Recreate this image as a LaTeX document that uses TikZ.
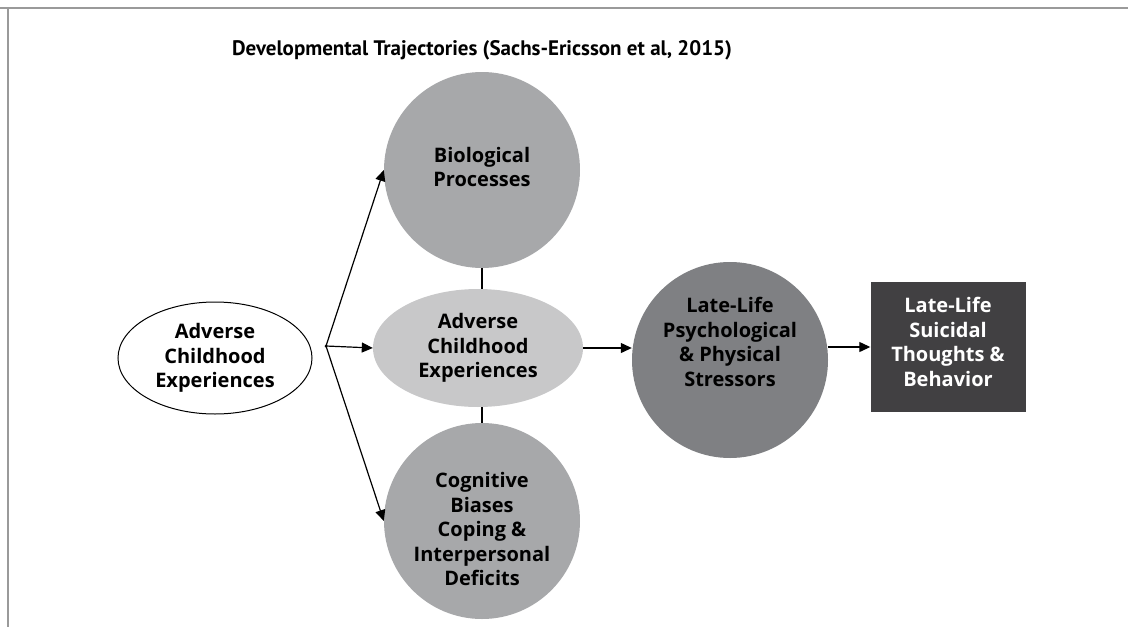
\documentclass[tikz,border=0pt]{standalone}
\usepackage{fontspec}
\setmainfont{Open Sans}
\newfontfamily\titlefont{PT Sans}
\usetikzlibrary{shapes.geometric,arrows.meta}
\definecolor{lightfill}{HTML}{C8C8C9}
\definecolor{midfill}{HTML}{A7A8AA}
\definecolor{darkfill}{HTML}{7F8083}
\definecolor{boxfill}{HTML}{414042}
\definecolor{framegray}{HTML}{9A9A9A}
\tikzset{
  txt/.style={align=center,font=\bfseries\fontsize{20}{24.5}\selectfont,text=black},
  bubble/.style={circle,minimum size=196pt,inner sep=0pt,fill=midfill,draw=none},
  link/.style={line width=1.2pt,-{Triangle[length=11pt,width=10pt]}},
}
\begin{document}
\begin{tikzpicture}[x=1pt,y=-1pt]
            \def\W{1128}
            \def\H{627}
            \useasboundingbox (0,0) rectangle (\W,\H);
            \draw[framegray,line width=1.5pt] (0,8)--(\W,8);
            \draw[framegray,line width=1.5pt] (8,8)--(8,\H);
            \node[font=\titlefont\bfseries\fontsize{21}{25}\selectfont] (title)
                at (482,50) {Developmental Trajectories (Sachs-Ericsson et al, 2015)};
            \node[txt,ellipse,draw,line width=1pt,fill=white,
                  minimum width=194pt,minimum height=112pt,inner sep=0pt]
                (ace) at (215,358) {Adverse\\Childhood\\Experiences};
            \node[bubble] (bio) at (482,170) {};
            \node[txt] at (482,167) {Biological\\Processes};
            \node[txt,ellipse,fill=lightfill,minimum width=210pt,
                  minimum height=118pt,inner sep=0pt]
                (mid) at (478,348) {Adverse\\Childhood\\Experiences};
            \node[bubble] (cog) at (482,521) {};
            \node[txt] at (482,529) {Cognitive\\Biases\\Coping \&\\Interpersonal\\Deficits};
            \node[bubble,fill=darkfill] (late) at (730,360) {};
            \node[txt] at (730,342) {Late-Life\\Psychological\\\& Physical\\Stressors};
            \node[fill=boxfill,minimum width=155pt,minimum height=130pt,
                  inner sep=0pt] (sui) at (948,347) {};
            \node[txt,text=white] at (948,342) {Late-Life\\Suicidal\\Thoughts \&\\Behavior};
            \coordinate (hub) at (326,346);
            \fill (hub) circle (1.5pt);
            \draw[line width=1.2pt] (bio.south)--(bio.south |- mid.north);
            \draw[line width=1.2pt] (cog.north |- mid.south)--(cog.north);
            \draw[link] (hub)--(bio.west);
            \draw[link] (hub)--(cog.west);
            \draw[link] (hub)--(mid.west);
            \draw[link] (mid.east)--(late.west |- mid.east);
            \draw[link] (late.east |- sui.west)--(sui.west);
            \end{tikzpicture}
\end{document}
